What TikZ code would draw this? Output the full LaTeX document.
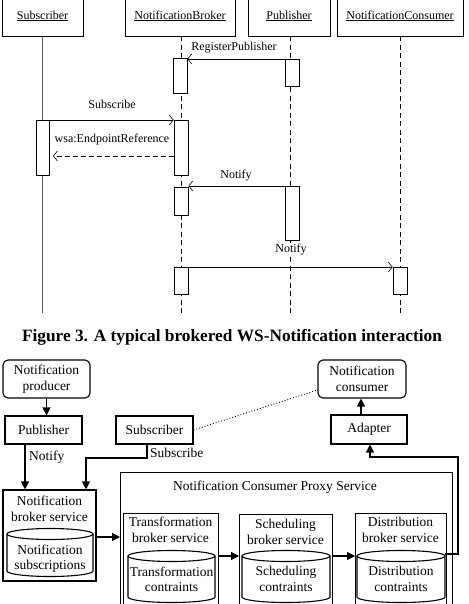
\documentclass[tikz,border=0pt]{standalone}
\usepackage{fontspec}
\setmainfont{Liberation Serif}
\usetikzlibrary{arrows.meta}
\newcommand\mycyl[6]{%
  \pgfmathsetmacro\mycx{(#2+#3)/2}\pgfmathsetmacro\myrx{(#3-#2)/2}%
  \draw[cylline] (#2,-#4) -- (#2,-#5) arc[start angle=180,end angle=360,x radius=\myrx pt,y radius=#6 pt] -- (#3,-#4);
  \draw[cylline] (\mycx,-#4) ellipse[x radius=\myrx pt, y radius=#6 pt];
  \coordinate (#1) at (\mycx,-#4);
}
\begin{document}
\begin{tikzpicture}[x=1pt,y=1pt,
  seqtxt/.style={font=\fontsize{12}{14}\selectfont, inner sep=0pt},
  hdr/.style={draw, line width=0.6pt, inner sep=0pt, minimum height=40pt, font=\fontsize{12}{14}\selectfont},
  act/.style={draw, fill=white, line width=0.7pt, inner sep=0pt, minimum width=14pt, anchor=north},
  thickedge/.style={line width=1.3pt},
  life/.style={line width=0.6pt, dash pattern=on 5pt off 3.5pt},
  msg/.style={line width=0.6pt, -{Straight Barb[length=4pt,width=10pt]}},
  box/.style={draw, line width=1.1pt, inner sep=0pt, font=\fontsize{13.5}{15.5}\selectfont, align=center},
  txt/.style={inner sep=0pt, font=\fontsize{13.5}{15.5}\selectfont, align=center},
  cylline/.style={line width=1.1pt},
  arr/.style={line width=1.1pt, -{Triangle[length=8pt,width=8pt]}}
]
\useasboundingbox (0,0) rectangle (468,-604);
\clip (0,0) rectangle (468,-604);

% ---------- sequence diagram ----------
\node[hdr, minimum width=81pt] (hS) at (42.5,-16) {\underline{Subscriber}};
\node[hdr, minimum width=110pt] (hB) at (180,-16) {\underline{NotificationBroker}};
\node[hdr, minimum width=82pt] (hP) at (289,-16) {\underline{Publisher}};
\node[hdr, minimum width=126pt] (hC) at (400,-16) {\underline{NotificationConsumer}};

\coordinate (eS) at (42,-313);
\coordinate (eB) at (181,-313);
\coordinate (eP) at (290,-313);
\coordinate (eC) at (400,-313);
\draw[line width=0.6pt, gray!70!black] (hS.south -| eS) -- (eS);
\draw[life] (hB.south -| eB) -- (eB);
\draw[life] (hP.south -| eP) -- (eP);
\draw[life] (hC.south -| eC) -- (eC);

\node[act, minimum height=35pt] (bA1) at (180,-58) {};
\node[act, minimum height=27pt] (pA1) at (292,-59) {};
\node[act, minimum height=55pt, minimum width=13pt] (sA1) at (42.5,-120) {};
\node[act, minimum height=55pt] (bA2) at (181,-120) {};
\node[act, minimum height=28pt] (bA3) at (181,-187) {};
\node[act, minimum height=54pt] (pA2) at (292,-186) {};
\node[act, minimum height=27pt] (bA4) at (181,-267) {};
\node[act, minimum height=27pt] (cA1) at (400,-267) {};
\draw[thickedge] (bA2.north east) -- (bA2.south east);
\draw[thickedge] (bA3.north east) -- (bA3.south east) -- (bA3.south west);
\draw[thickedge] (bA4.north east) -- (bA4.south east);

\draw[msg] (pA1.north west) -- (bA1.north east |- pA1.north west);
\draw[msg] (sA1.north east) -- (bA2.north west);
\coordinate (wsaS) at (53,-156);
\draw[msg, dash pattern=on 5pt off 3pt] (bA2.west |- wsaS) -- (wsaS);
\draw[msg] (pA2.north west) -- (bA3.north east |- pA2.north west);
\draw[msg] (bA4.north east) -- (cA1.north west);

\node[seqtxt] (lReg) at (234,-48) {RegisterPublisher};
\node[seqtxt] (lSub) at (112,-104) {Subscribe};
\node[seqtxt] (lWsa) at (112,-140) {wsa:EndpointReference};
\node[seqtxt] (lN1) at (236,-176) {Notify};
\node[seqtxt, fill=white, inner sep=1pt] (lN2) at (291,-250) {Notify};

\node[inner sep=0pt, font=\bfseries\fontsize{17.3}{19}\selectfont] (cap) at (232,-337) {Figure 3. A typical brokered WS-Notification interaction};

% ---------- architecture diagram ----------
\node[box, rounded corners=5pt, minimum width=87pt, minimum height=38pt] (prod) at (46.5,-379) {Notification\\producer};
\node[box, minimum width=77pt, minimum height=28pt] (pub) at (43.5,-430) {Publisher};
\node[box, minimum width=77pt, minimum height=28pt] (subs) at (154.5,-430) {Subscriber};
\node[box, rounded corners=5pt, minimum width=88pt, minimum height=38pt] (cons) at (362,-379) {Notification\\consumer};
\node[box, minimum width=76pt, minimum height=29pt] (adap) at (369,-429.5) {Adapter};

\node[box, minimum width=93pt, minimum height=91pt] (nbs) at (49.5,-535.5) {};
\node[txt] (nbsT) at (49.5,-509) {Notification\\broker service};
\mycyl{nsc}{7}{93}{534}{571}{5.5}
\node[txt] (nscT) at (50,-558.5) {Notification\\subscriptions};

\node[box, minimum width=332pt, minimum height=170pt, anchor=north west] (proxy) at (120,-472) {};
\node[txt] (proxyT) at (275,-487) {Notification Consumer Proxy Service};

\node[box, minimum width=95pt, minimum height=120pt, anchor=north west] (trans) at (123,-513) {};
\node[txt] (transT) at (170.5,-530) {Transformation\\broker service};
\mycyl{tc}{128}{215}{556}{597}{5.5}
\node[txt] (tcT) at (171.5,-579.5) {Transformation\\contraints};

\node[box, minimum width=93pt, minimum height=120pt, anchor=north west] (sched) at (239,-514) {};
\node[txt] (schedT) at (285.5,-532) {Scheduling\\broker service};
\mycyl{sc}{242}{330}{556}{597}{5.5}
\node[txt] (scT) at (286,-579) {Scheduling\\contraints};

\node[box, minimum width=91pt, minimum height=120pt, anchor=north west] (dist) at (355,-513) {};
\node[txt] (distT) at (400.5,-530) {Distribution\\broker service};
\mycyl{dc}{357}{445}{556}{597}{5.5}
\node[txt] (dcT) at (401,-579) {Distribution\\contraints};

% connectors
\draw[arr] (prod.south) -- (pub.north -| prod.south);
\coordinate (pubOut) at (25,-444);
\draw[arr] (pubOut) -- (nbs.north -| pubOut);
\node[txt, anchor=west] (lNotify) at (29,-457) {Notify};
\coordinate (subOut) at (147,-444);
\coordinate (subBend) at (86,-458);
\draw[arr] (subOut) |- (subBend) -- (nbs.north -| subBend);
\node[txt, anchor=west] (lSubscribe) at (150,-453) {Subscribe};
\draw[dotted, line width=0.9pt] (subs.east) -- (cons.west |- 0,-390);
\coordinate (adOut) at (361,-415);
\draw[arr] (adOut) -- (cons.south -| adOut);
\coordinate (nbsOut) at (96,-537);
\draw[arr] (nbsOut) -- (proxy.west |- nbsOut);
\draw[arr] (trans.east |- tc) -- (sched.west |- tc);
\draw[arr] (sched.east |- sc) -- (dist.west |- sc);
\coordinate (dRight) at (445,-554);
\coordinate (loopR) at (458,-457);
\coordinate (adIn) at (370,-457);
\draw[arr] (dRight) -| (loopR) -- (adIn) -- (adap.south -| adIn);
\end{tikzpicture}
\end{document}
